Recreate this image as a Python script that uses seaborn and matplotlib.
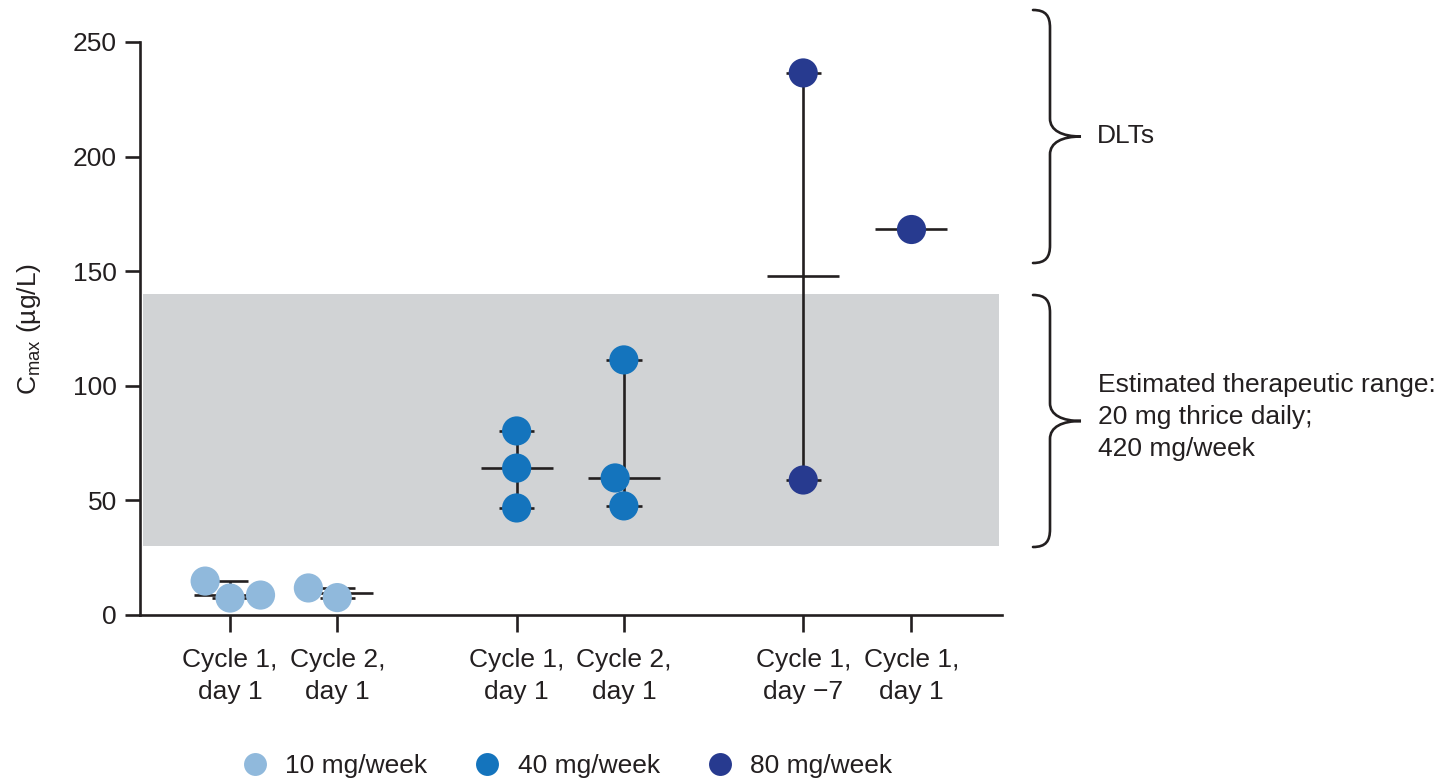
import numpy as np
import pandas as pd
import matplotlib
matplotlib.use("Agg")
import matplotlib.pyplot as plt
from matplotlib.path import Path
from matplotlib.patches import PathPatch
from matplotlib.lines import Line2D
import seaborn as sns

# ---------------- data ----------------
doses = ["10 mg/week", "40 mg/week", "80 mg/week"]
timepoints = ["Cycle 1,\nday 1", "Cycle 2,\nday 1",
              "Cycle 1,\nday 1", "Cycle 2,\nday 1",
              "Cycle 1,\nday \u22127", "Cycle 1,\nday 1"]
tp_dose = ["10 mg/week", "10 mg/week", "40 mg/week", "40 mg/week",
           "80 mg/week", "80 mg/week"]
cmax_10_c1d1 = [14.8, 7.4, 8.7]
cmax_10_c2d1 = [7.6, 11.8]
cmax_40_c1d1 = [80.3, 64.1, 46.7]
cmax_40_c2d1 = [111.3, 59.8, 47.6]
cmax_80_c1dm7 = [236.5, 58.9]
cmax_80_c1d1 = [168.6]
therapeutic_range = [30, 140]
yticks = [0, 50, 100, 150, 200, 250]

values_by_tp = [cmax_10_c1d1, cmax_10_c2d1, cmax_40_c1d1,
                cmax_40_c2d1, cmax_80_c1dm7, cmax_80_c1d1]

# ---------------- style ----------------
colors = {"10 mg/week": "#90b9dc", "40 mg/week": "#1474bd", "80 mg/week": "#273a8f"}
band_color = "#d1d3d5"
ink = "#231f20"
FS = 19

sns.set_theme(style="ticks")
plt.rcParams["font.family"] = ["Liberation Sans", "DejaVu Sans"]
plt.rcParams["mathtext.fontset"] = "custom"
plt.rcParams["mathtext.rm"] = "Liberation Sans"
plt.rcParams["mathtext.it"] = "Liberation Sans"

W, H = 1438, 780
fig = plt.figure(figsize=(W / 100, H / 100), dpi=100)
ax = fig.add_axes([140 / W, 1 - 615 / H, (1002 - 140) / W, (615 - 42) / H])

# x positions: pairs within groups, wider gap between groups
group_gap = 2.673
positions = []
for i in range(len(timepoints)):
    g, k = divmod(i, 2)
    positions.append(g * group_gap + k * (1.0 if g < 2 else 1.009))

rows = []
for pos, dose, vals in zip(positions, tp_dose, values_by_tp):
    for v in vals:
        rows.append({"pos": pos, "dose": dose, "value": v})
df = pd.DataFrame(rows)

ax.set_xlim(-0.84, 7.2)
ax.set_ylim(0, 250)

# therapeutic band
ax.axhspan(therapeutic_range[0], therapeutic_range[1], xmin=0.003, xmax=0.997,
           color=band_color, lw=0, zorder=0)

# median with range
lw = 1.9
for pos, vals in zip(positions, values_by_tp):
    med = np.median(vals)
    lo, hi = min(vals), max(vals)
    ax.hlines(med, pos - 0.335, pos + 0.335, color=ink, lw=lw, zorder=2)
    if hi > lo:
        ax.vlines(pos, lo, hi, color=ink, lw=lw, zorder=2)
        ax.hlines([lo, hi], pos - 0.165, pos + 0.165, color=ink, lw=lw, zorder=2)

sns.swarmplot(data=df, x="pos", y="value", hue="dose", palette=colors,
              native_scale=True, size=21, linewidth=0, legend=False,
              ax=ax, zorder=3)
for c in ax.collections:
    c.set_zorder(3)

# axes styling
for s in ["top", "right"]:
    ax.spines[s].set_visible(False)
for s in ["left", "bottom"]:
    ax.spines[s].set_color(ink)
    ax.spines[s].set_linewidth(1.9)
ax.set_xticks(positions)
ax.set_xticklabels(timepoints, fontsize=FS, color=ink, linespacing=1.4)
ax.set_yticks(yticks)
ax.set_yticklabels([str(t) for t in yticks], fontsize=FS, color=ink)
ax.tick_params(axis="x", length=12, width=1.9, color=ink, pad=12)
ax.tick_params(axis="y", length=10.5, width=1.9, color=ink, pad=6)
ax.set_xlabel("")
ax.set_ylabel(r"C$_{\mathrm{max}}$ (µg/L)", fontsize=FS, color=ink)
ax.yaxis.set_label_coords(-0.112, 0.5)


# braces
def brace(y_top, y_bot, x0=1033, xv=1050, xt=1081):
    ym = (y_top + y_bot) / 2
    pts = [(x0, y_top), (xv - 4, y_top), (xv, y_top + 6), (xv, y_top + 18),
           (xv, ym - 18),
           (xv, ym - 6), (xv + 12, ym), (xt, ym),
           (xv + 12, ym), (xv, ym + 6), (xv, ym + 18),
           (xv, y_bot - 18),
           (xv, y_bot - 6), (xv - 4, y_bot), (x0, y_bot)]
    codes = [Path.MOVETO, Path.CURVE4, Path.CURVE4, Path.CURVE4,
             Path.LINETO,
             Path.CURVE4, Path.CURVE4, Path.CURVE4,
             Path.CURVE4, Path.CURVE4, Path.CURVE4,
             Path.LINETO,
             Path.CURVE4, Path.CURVE4, Path.CURVE4]
    fpts = [(x / W, 1 - y / H) for x, y in pts]
    patch = PathPatch(Path(fpts, codes), facecolor="none", edgecolor=ink,
                      lw=1.9, transform=fig.transFigure, capstyle="round")
    fig.patches.append(patch)


brace(10, 263)
brace(295, 547)
fig.text(1097 / W, 1 - 136 / H, "DLTs", fontsize=FS, color=ink,
         ha="left", va="center")
fig.text(1098 / W, 1 - 417 / H,
         "Estimated therapeutic range:\n20 mg thrice daily;\n420 mg/week",
         fontsize=FS, color=ink, ha="left", va="center", linespacing=1.4)

# legend
handles = [Line2D([0], [0], marker="o", linestyle="", markersize=16.5,
                  markerfacecolor=colors[d], markeredgewidth=0) for d in doses]
fig.legend(handles, doses, loc="center", bbox_to_anchor=(567 / W, 1 - 766 / H),
           ncol=3, frameon=False, fontsize=FS, handlelength=1.0,
           handletextpad=0.64, columnspacing=1.77, labelcolor=ink)

fig.savefig("out.png", dpi=100)
